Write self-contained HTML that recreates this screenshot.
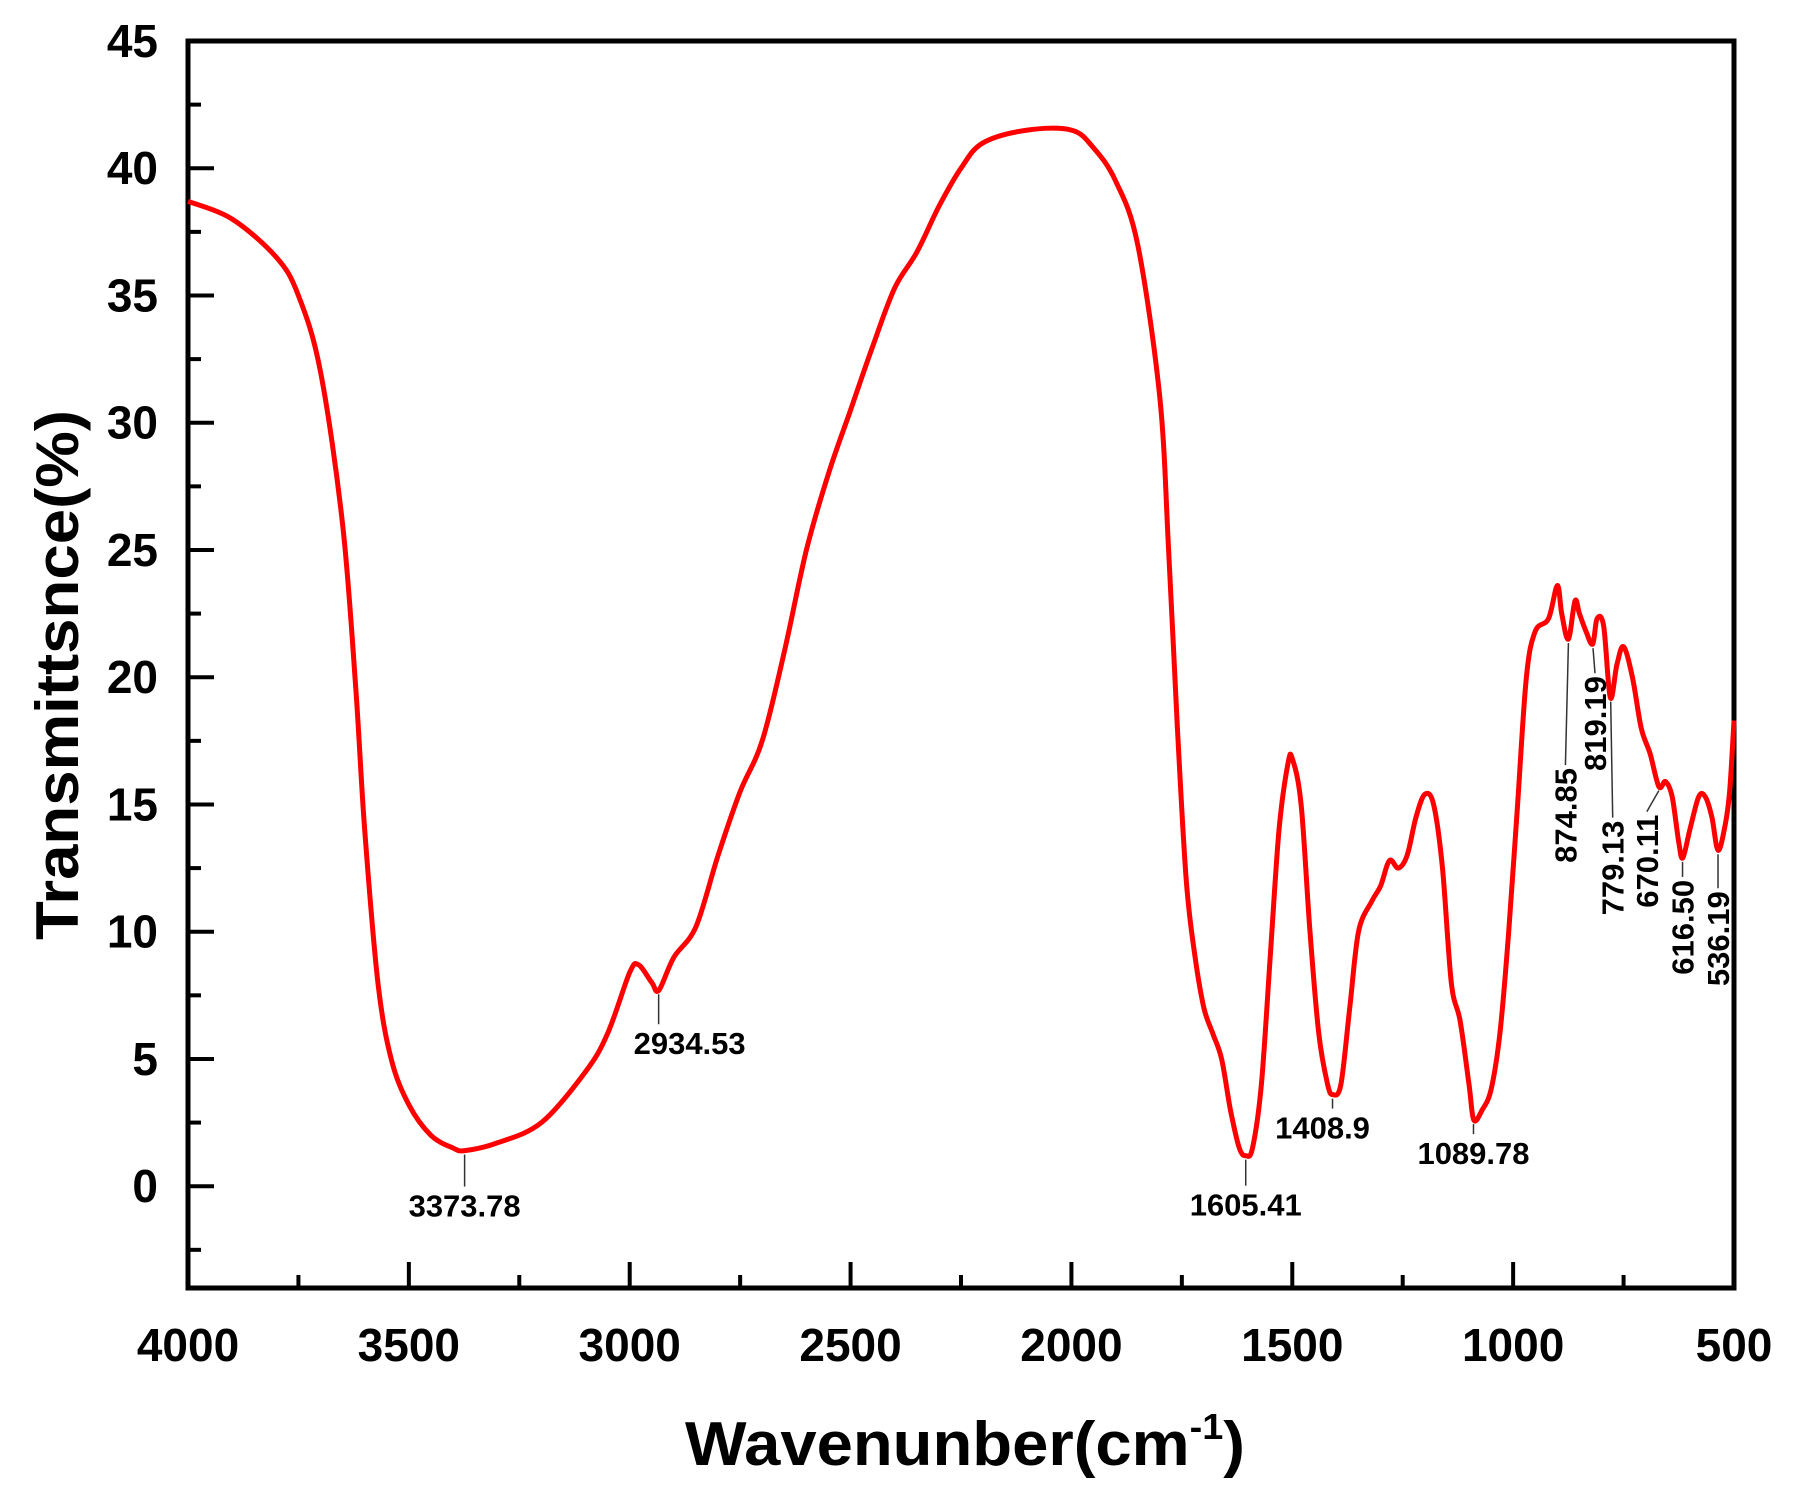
<!DOCTYPE html>
<html><head><meta charset="utf-8"><style>
html,body{margin:0;padding:0;background:#fff;}
svg{display:block;font-family:"Liberation Sans",Arial,sans-serif;}
</style></head><body>
<svg id="chart" width="1801" height="1503" viewBox="0 0 1801 1503" xmlns="http://www.w3.org/2000/svg">
<g id="axes"></g>
<g id="series"></g>
<g id="annots"></g>
<text x="965" y="1465" text-anchor="middle" font-size="62" font-weight="bold" textLength="560" lengthAdjust="spacingAndGlyphs">Wavenunber(cm<tspan dy="-26" font-size="36">-1</tspan><tspan dy="26">)</tspan></text>
<text transform="translate(78,675) rotate(-90)" text-anchor="middle" font-size="60" font-weight="bold" textLength="530" lengthAdjust="spacingAndGlyphs">Transmittsnce(%)</text>
</svg>
<script>
const wavenumbers=[4000,3900,3800,3750,3700,3650,3620,3600,3570,3540,3500,3450,3400,3373,3300,3200,3100,3050,3000,2980,2950,2934,2900,2850,2800,2750,2700,2650,2600,2550,2500,2450,2400,2350,2300,2250,2200,2100,2000,1950,1900,1850,1800,1780,1760,1740,1720,1700,1680,1660,1640,1620,1605,1590,1570,1550,1530,1510,1500,1480,1460,1440,1420,1408,1390,1370,1350,1320,1300,1280,1260,1240,1220,1200,1180,1160,1140,1120,1100,1089,1070,1050,1030,1010,990,970,950,920,900,890,875,860,850,835,820,810,795,780,765,750,730,710,690,670,655,640,625,616,600,580,565,550,536,520,510,500];
const transmittance=[38.7,38.0,36.5,35,32,26,19.5,14,8,5,3.2,2,1.5,1.4,1.7,2.5,4.5,6,8.4,8.7,8,7.7,9,10.2,13,15.5,17.5,21,25,28,30.5,33,35.3,36.7,38.5,40,41,41.5,41.5,40.8,39.5,37,31,25,18,12,9,7,6,5,3,1.5,1.2,1.5,4,9,14,16.6,16.8,15,10,6,4,3.6,4,7,10,11.2,11.8,12.8,12.5,13,14.5,15.4,15,12.5,8,6.5,4,2.6,3,3.8,6,10,15,20,21.8,22.3,23.6,22.5,21.5,23,22.5,21.8,21.3,22.3,22,19.2,20.5,21.2,20,18,17,15.7,15.9,15.3,13.5,12.9,14,15.3,15.3,14.5,13.2,14.2,15.5,18.3];
const xTicks=[4000,3500,3000,2500,2000,1500,1000,500];
const yTicks=[0,5,10,15,20,25,30,35,40,45];
const peakWn=[3373.78,2934.53,1605.41,1408.9,1089.78,874.85,819.19,779.13,670.11,616.50,536.19];
const peakT=[1.4,7.7,1.2,3.6,2.6,21.5,21.3,19.2,15.7,12.9,13.2];
const peakText=["3373.78","2934.53","1605.41","1408.9","1089.78","874.85","819.19","779.13","670.11","616.50","536.19"];

const L=188,R=1734,T=41,B=1288,XMIN=500,XMAX=4000,YMIN=-4,YMAX=45;
const sx=v=>L+(XMAX-v)/(XMAX-XMIN)*(R-L);
const sy=v=>B-(v-YMIN)/(YMAX-YMIN)*(B-T);
const NS="http://www.w3.org/2000/svg";
function mk(tag,attrs,parent){const e=document.createElementNS(NS,tag);for(const k in attrs)e.setAttribute(k,attrs[k]);parent.appendChild(e);return e;}
const axes=document.getElementById('axes');
const frame=mk('rect',{x:L,y:T,width:R-L,height:B-T,fill:'none',stroke:'#000','stroke-width':5},axes);


for(let v=500;v<=4000;v+=250){
  const major=(v%500===0);
  const t=mk('line',{x1:sx(v),x2:sx(v),y1:B,y2:B-(major?26:13),stroke:'#000','stroke-width':4},axes);
  
  
}
xTicks.forEach(v=>{
  const t=mk('text',{x:sx(v),y:B+73,'text-anchor':'middle','font-size':46,'font-weight':'bold'},axes);
  t.textContent=v;
  
  
});
for(let v=-2.5;v<45;v+=2.5){
  const major=(Math.abs(v%5)<1e-6);
  const t=mk('line',{x1:L,x2:L+(major?26:13),y1:sy(v),y2:sy(v),stroke:'#000','stroke-width':4},axes);
  
  
}
yTicks.forEach(v=>{
  const t=mk('text',{x:L-30,y:sy(v)+16,'text-anchor':'end','font-size':46,'font-weight':'bold'},axes);
  t.textContent=v;
  
  
});
const series=document.getElementById('series');
const pts=wavenumbers.map((w,i)=>[sx(w),sy(transmittance[i])]);
let d='M'+pts[0][0].toFixed(1)+','+pts[0][1].toFixed(1);
for(let i=0;i<pts.length-1;i++){
  const p0=pts[Math.max(0,i-1)],p1=pts[i],p2=pts[i+1],p3=pts[Math.min(pts.length-1,i+2)];
  const c1x=p1[0]+(p2[0]-p0[0])/6,c1y=p1[1]+(p2[1]-p0[1])/6;
  const c2x=p2[0]-(p3[0]-p1[0])/6,c2y=p2[1]-(p3[1]-p1[1])/6;
  d+='C'+c1x.toFixed(1)+','+c1y.toFixed(1)+' '+c2x.toFixed(1)+','+c2y.toFixed(1)+' '+p2[0].toFixed(1)+','+p2[1].toFixed(1);
}
const path=mk('path',{d:d,fill:'none',stroke:'#ff0000','stroke-width':5,'stroke-linejoin':'round'},series);


const annots=document.getElementById('annots');
// label placement offsets (px) relative to each peak point: [dx, dy, rotated]
const labelOffsets=[[0,66,0],[31,64,0],[0,60,0],[-10,44,0],[0,44,0],[-3,129,1],[2,32,1],[2,123,1],[-12,28,1],[0,22,1],[0,41,1]];
peakWn.forEach((w,i)=>{
  const px=sx(w),py=sy(peakT[i]);
  const o=labelOffsets[i];
  const g=mk('g',{},annots);
  
  
  if(o[2]){
    const top=py+o[1];
    mk('line',{x1:px,y1:py+4,x2:px+o[0],y2:top-3,stroke:'#333','stroke-width':1.5},g);
    const t=mk('text',{transform:`translate(${px+o[0]+11},${top}) rotate(-90)`,'text-anchor':'end','font-size':31,'font-weight':'bold'},g);
    t.textContent=peakText[i];
  }else{
    mk('line',{x1:px,y1:py+4,x2:px,y2:py+o[1]-30,stroke:'#333','stroke-width':1.5},g);
    const t=mk('text',{x:px+o[0],y:py+o[1],'text-anchor':'middle','font-size':31,'font-weight':'bold'},g);
    t.textContent=peakText[i];
  }
});
</script>
</body></html>
